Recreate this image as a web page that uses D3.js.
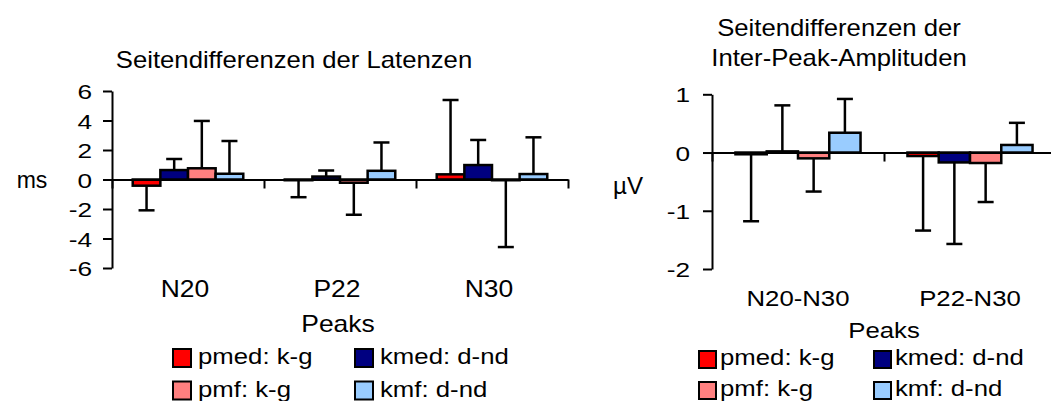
<!DOCTYPE html>
<html>
<head>
<meta charset="utf-8">
<script src="https://cdn.jsdelivr.net/npm/d3@7"></script>
<style>
  html, body { margin: 0; padding: 0; background: #fff; }
  svg { display: block; }
  text { font-family: "Liberation Sans", Arial, sans-serif; fill: #000; }
</style>
</head>
<body>
<svg id="chart" width="1051" height="401"></svg>
<script>
// ---- data ----
const seriesNames = ["pmed: k-g", "kmed: d-nd", "pmf: k-g", "kmf: d-nd"];
const seriesColors = ["#FF0000", "#000080", "#FF8080", "#99CCFF"];

// latency side differences (ms)
const latCategories = ["N20", "P22", "N30"];
const latPmed = [-0.42, -0.05, 0.35];
const latKmed = [0.64, 0.20, 0.98];
const latPmf  = [0.76, -0.22, -0.05];
const latKmf  = [0.39, 0.59, 0.37];
const latPmedSd = [1.67, 1.15, 5.04];
const latKmedSd = [0.75, 0.41, 1.70];
const latPmfSd  = [3.21, 2.17, 4.53];
const latKmfSd  = [2.22, 1.92, 2.49];
const latTicks = [-6, -4, -2, 0, 2, 4, 6];

// inter-peak amplitude side differences (µV)
const ampCategories = ["N20-N30", "P22-N30"];
const ampPmed = [-0.03, -0.06];
const ampKmed = [0.02, -0.17];
const ampPmf  = [-0.10, -0.18];
const ampKmf  = [0.34, 0.13];
const ampPmedSd = [1.15, 1.28];
const ampKmedSd = [0.79, 1.40];
const ampPmfSd  = [0.57, 0.67];
const ampKmfSd  = [0.58, 0.38];
const ampTicks = [-2, -1, 0, 1];

const svg = d3.select("#chart");

function label(g, str, x, y, size, sx, anchor) {
  return g.append("text")
    .attr("transform", `translate(${x},${y}) scale(${sx},1)`)
    .attr("text-anchor", anchor || "middle")
    .style("font-size", size + "px")
    .text(str);
}

function drawPanel(opt) {
  const g = svg.append("g");
  const x = d3.scaleBand().domain(opt.categories).range(opt.xRange).padding(0);
  const xs = d3.scaleBand().domain(seriesNames).range([0, x.bandwidth()])
    .paddingInner(0).paddingOuter(0.75);
  const y = d3.scaleLinear().domain(opt.yDomain).range(opt.yRange);
  const y0 = y(0);

  const rows = [];
  opt.categories.forEach((c, i) => {
    opt.values.forEach((vals, s) => {
      rows.push({ cat: c, s: s, v: vals[i], sd: opt.sds[s][i] });
    });
  });

  // bars
  g.selectAll("rect.bar").data(rows).enter().append("rect")
    .attr("class", "bar")
    .attr("x", d => x(d.cat) + xs(seriesNames[d.s]))
    .attr("width", xs.bandwidth())
    .attr("y", d => Math.min(y(d.v), y0))
    .attr("height", d => Math.max(Math.abs(y(d.v) - y0), 0.01))
    .attr("fill", d => seriesColors[d.s])
    .attr("stroke", "#000")
    .attr("stroke-width", 2.5);

  // one-sided error bars
  const capW = 16;
  const eb = g.selectAll("g.err").data(rows).enter().append("g").attr("class", "err");
  const cx = d => x(d.cat) + xs(seriesNames[d.s]) + xs.bandwidth() / 2;
  const tip = d => d.v >= 0 ? d.v + d.sd : d.v - d.sd;
  eb.append("line")
    .attr("x1", cx).attr("x2", cx)
    .attr("y1", d => y(d.v)).attr("y2", d => y(tip(d)))
    .attr("stroke", "#000").attr("stroke-width", 2.5);
  eb.append("line")
    .attr("x1", d => cx(d) - capW / 2).attr("x2", d => cx(d) + capW / 2)
    .attr("y1", d => y(tip(d))).attr("y2", d => y(tip(d)))
    .attr("stroke", "#000").attr("stroke-width", 2.5);

  // value axis
  const ya = g.append("g")
    .attr("transform", `translate(${opt.xRange[0]},0)`)
    .call(d3.axisLeft(y).tickValues(opt.ticks).tickFormat(d => String(d))
      .tickSize(9).tickSizeOuter(0));
  ya.selectAll("path, line").attr("stroke", "#000").attr("stroke-width", 2);
  ya.selectAll("text")
    .attr("x", null).attr("dy", null)
    .attr("transform", `translate(${-opt.tickGap},${opt.tickFont * 0.36}) scale(${opt.tickSx},1)`)
    .style("font-size", opt.tickFont + "px")
    .style("font-family", null)
    .attr("fill", "#000");

  // category axis along the zero line, ticks between categories
  const xb = d3.scaleLinear().domain([0, opt.categories.length]).range(opt.xRange);
  const xa = g.append("g")
    .attr("transform", `translate(0,${y0})`)
    .call(d3.axisBottom(xb).ticks(opt.categories.length).tickFormat("")
      .tickSize(9).tickSizeOuter(0));
  xa.selectAll("path, line").attr("stroke", "#000").attr("stroke-width", 2);

  // category labels
  const cl = g.append("g")
    .attr("transform", `translate(${opt.catShift},${opt.catBaseline})`)
    .call(d3.axisBottom(x).tickSize(0).tickPadding(0));
  cl.select(".domain").remove();
  cl.selectAll("text")
    .attr("y", null).attr("dy", null)
    .attr("transform", `scale(${opt.txtSx},1)`)
    .style("font-size", opt.txtFont + "px")
    .style("font-family", null)
    .attr("fill", "#000");

  // axis titles
  label(g, "Peaks", opt.peaksX, opt.peaksY, opt.txtFont, opt.txtSx);
  label(g, opt.unit, opt.unitX, opt.unitY, opt.txtFont, opt.unitSx);

  // chart title
  opt.title.forEach((t, i) => {
    label(g, t, opt.titleX, opt.titleY[i], opt.titleFont, opt.titleSx);
  });

  // legend
  const lg = g.append("g");
  seriesNames.forEach((name, s) => {
    const col = s % 2, row = Math.floor(s / 2);
    const sx = opt.legX[col], sy = opt.legY + row * opt.legRow;
    lg.append("rect")
      .attr("x", sx).attr("y", sy)
      .attr("width", opt.legBox).attr("height", opt.legBox)
      .attr("fill", seriesColors[s]).attr("stroke", "#000").attr("stroke-width", 2);
    label(lg, name, sx + opt.legBox + opt.legGap, sy + opt.legBox - 3,
      opt.txtFont, opt.legSx, "start");
  });
}

drawPanel({
  categories: latCategories,
  values: [latPmed, latKmed, latPmf, latKmf],
  sds: [latPmedSd, latKmedSd, latPmfSd, latKmfSd],
  ticks: latTicks,
  xRange: [112, 568],
  yDomain: [-6, 6],
  yRange: [268, 91],
  tickGap: 20, tickFont: 21, tickSx: 1.25,
  txtFont: 23, txtSx: 1.15, legSx: 1.12, unitSx: 1.0,
  catBaseline: 297, catShift: -3,
  peaksX: 338, peaksY: 332,
  unit: "ms", unitX: 32, unitY: 188,
  title: ["Seitendifferenzen der Latenzen"],
  titleX: 294, titleY: [68], titleFont: 24, titleSx: 1.07,
  legX: [173, 355], legY: 349, legRow: 32.5, legBox: 18, legGap: 7
});

drawPanel({
  categories: ampCategories,
  values: [ampPmed, ampKmed, ampPmf, ampKmf],
  sds: [ampPmedSd, ampKmedSd, ampPmfSd, ampKmfSd],
  ticks: ampTicks,
  xRange: [712, 1056],
  yDomain: [-2, 1],
  yRange: [269, 94.3],
  tickGap: 22, tickFont: 21, tickSx: 1.25,
  txtFont: 23, txtSx: 1.12, legSx: 1.12, unitSx: 1.05,
  catBaseline: 306, catShift: 0,
  peaksX: 884, peaksY: 338,
  unit: "\u00B5V", unitX: 628, unitY: 194,
  title: ["Seitendifferenzen der", "Inter-Peak-Amplituden"],
  titleX: 839, titleY: [36, 66], titleFont: 24, titleSx: 1.07,
  legX: [699, 874], legY: 351, legRow: 31, legBox: 17, legGap: 4
});
</script>
</body>
</html>
